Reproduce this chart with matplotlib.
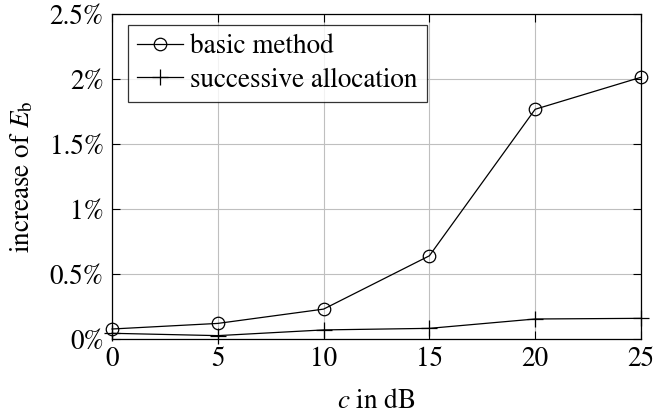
import matplotlib
matplotlib.use("Agg")
import matplotlib.pyplot as plt
from matplotlib.ticker import FuncFormatter

plt.rcParams["font.family"] = ["STIXGeneral", "Liberation Serif", "DejaVu Serif"]
plt.rcParams["mathtext.fontset"] = "stix"

snr_db = [0, 5, 10, 15, 20, 25]
basic = [0.077, 0.12, 0.23, 0.64, 1.767, 2.013]
successive = [0.044, 0.026, 0.07, 0.082, 0.154, 0.159]
x_ticks = [0, 5, 10, 15, 20, 25]
y_ticks = [0, 0.5, 1, 1.5, 2, 2.5]

FS = 19.5

fig = plt.figure(figsize=(6.54, 4.15), dpi=100)
ax = fig.add_axes([0.1713, 0.1831, 0.8087, 0.7832])

ax.plot(snr_db, basic, color="black", lw=0.9, marker="o", ms=9,
        mfc="none", mew=0.9, clip_on=False, zorder=3, label="basic method")
ax.plot(snr_db, successive, color="black", lw=0.9, marker="+", ms=12,
        mew=0.9, clip_on=False, zorder=3, label="successive allocation")

ax.set_xlim(0, 25)
ax.set_ylim(0, 2.5)
ax.set_xticks(x_ticks)
ax.set_yticks(y_ticks)
ax.yaxis.set_major_formatter(FuncFormatter(lambda v, p: f"{v:g}%"))
ax.grid(True, color="#bfbfbf", lw=0.8)
ax.set_axisbelow(True)
ax.tick_params(direction="in", top=True, right=True, length=6, width=0.8,
               labelsize=FS, pad=6)
for s in ax.spines.values():
    s.set_linewidth(0.9)

ax.set_xlabel("$c$ in dB", fontsize=FS, labelpad=12)
ax.set_ylabel(r"increase of $E_\mathrm{b}$", fontsize=FS, labelpad=10)

leg = ax.legend(loc="upper left", bbox_to_anchor=(0.03, 0.967), fontsize=FS,
                frameon=True, fancybox=False, edgecolor="black",
                handlelength=1.7, handletextpad=0.25, borderpad=0.35,
                labelspacing=0.3, borderaxespad=0.0)
leg.get_frame().set_linewidth(0.9)

fig.savefig("out.png", dpi=100)
